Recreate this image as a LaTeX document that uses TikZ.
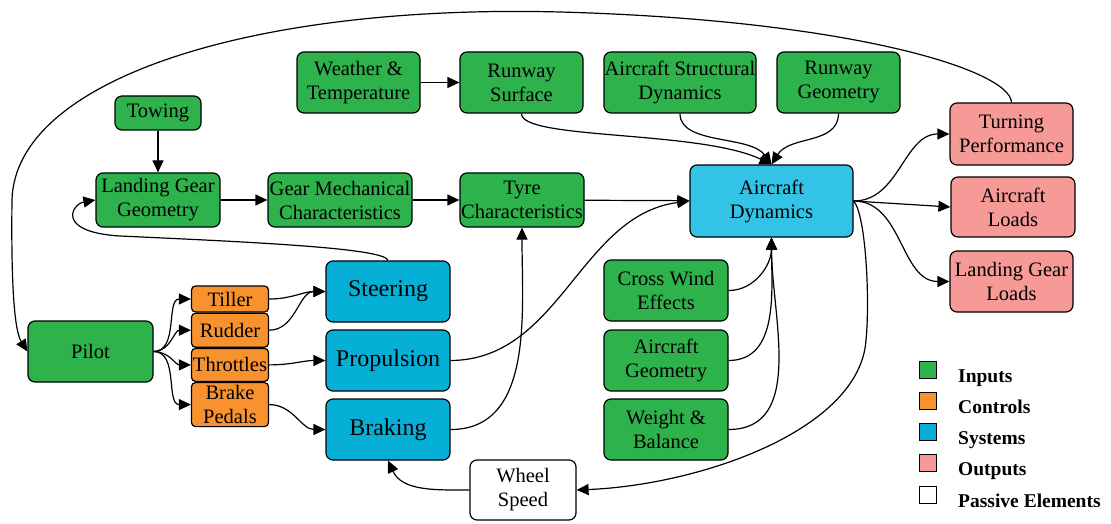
\documentclass[tikz,border=0pt]{standalone}
\usepackage{fontspec}
\setmainfont{Liberation Serif}
\usepackage{xcolor}
\usetikzlibrary{positioning,arrows.meta}

\definecolor{inpgreen}{HTML}{2EB24B}
\definecolor{ctlorange}{HTML}{F7922F}
\definecolor{sysblue}{HTML}{06AFD6}
\definecolor{dynblue}{HTML}{33C3E6}
\definecolor{outpink}{HTML}{F59A96}

\tikzset{
  blok/.style={draw, line width=1.2pt, rounded corners=7pt, align=center, inner sep=0pt,
    font=\fontsize{20.5}{24}\selectfont},
  inp/.style={blok, fill=inpgreen},
  ctl/.style={blok, fill=ctlorange, rounded corners=4pt, minimum width=77pt},
  sys/.style={blok, fill=sysblue, minimum width=124pt, minimum height=61pt,
    font=\fontsize{24}{28}\selectfont},
  outp/.style={blok, fill=outpink},
  pas/.style={blok, fill=white},
  kotak/.style={draw, line width=0.9pt, minimum size=17pt, inner sep=0pt},
  ket/.style={anchor=base west, inner sep=0pt, font=\bfseries\fontsize{19.5}{24}\selectfont},
  hub/.style={line width=1.2pt, -{Triangle[length=12pt,width=11pt]}},
}

\begin{document}
\begin{tikzpicture}[x=1pt, y=-1pt]
  \useasboundingbox (0,0) rectangle (1111,524);

  % inputs
  \node (weather) [inp, minimum width=123pt, minimum height=61pt] at (358.5,82.5) {Weather \&\\Temperature};
  \node (rsurf) [inp, minimum width=123pt, minimum height=61pt] at (521.5,82.5) {Runway\\Surface};
  \node (asd) [inp, minimum width=152pt, minimum height=61pt] at (680,82.5) {Aircraft Structural\\Dynamics};
  \node (rgeo) [inp, minimum width=123pt, minimum height=61pt] at (838.5,82.5) {Runway\\Geometry};
  \node (towing) [inp, minimum width=86pt, minimum height=34pt] at (158,113) {Towing};
  \node (lgg) [inp, minimum width=124pt, minimum height=54pt] at (158,200) {Landing Gear\\Geometry};
  \node (gmc) [inp, minimum width=144pt, minimum height=54pt] at (340,200) {Gear Mechanical\\Characteristics};
  \node (tyre) [inp, minimum width=124pt, minimum height=54pt] at (522,200) {Tyre\\Characteristics};
  \node (pilot) [inp, minimum width=125pt, minimum height=61pt] at (90.5,351.5) {Pilot};
  \node (cwind) [inp, minimum width=124pt, minimum height=61pt] at (666,290.5) {Cross Wind\\Effects};
  \node (ageo) [inp, minimum width=124pt, minimum height=61pt] at (666,360.5) {Aircraft\\Geometry};
  \node (wbal) [inp, minimum width=124pt, minimum height=61pt] at (666,429.5) {Weight \&\\Balance};

  % controls, stacked
  \node (tiller) [ctl, minimum height=26pt] at (230,299) {Tiller};
  \node (rudder) [ctl, minimum height=34pt, below=0pt of tiller] {Rudder};
  \node (throt) [ctl, minimum height=33pt, below=0pt of rudder] {Throttles};
  \node (bpedal) [ctl, minimum height=44pt, below=0pt of throt] {Brake\\Pedals};

  % systems
  \node (steer) [sys] at (388,291.5) {Steering};
  \node (prop) [sys] at (388,360.5) {Propulsion};
  \node (brake) [sys] at (388,429.5) {Braking};
  \node (adyn) [blok, fill=dynblue, minimum width=163pt, minimum height=72pt] at (771.5,201) {Aircraft\\Dynamics};

  % outputs
  \node (turn) [outp, minimum width=123pt, minimum height=62pt] at (1011.5,134) {Turning\\Performance};
  \node (aload) [outp, minimum width=124pt, minimum height=60pt] at (1013,207) {Aircraft\\Loads};
  \node (lgload) [outp, minimum width=123pt, minimum height=61pt] at (1011.5,281.5) {Landing Gear\\Loads};

  % passive
  \node (wspeed) [pas, minimum width=106pt, minimum height=60pt] at (523,490) {Wheel\\Speed};

  % legend
  \node (kin) [kotak, fill=inpgreen] at (928,369.5) {};
  \node (kct) [kotak, fill=ctlorange] at (928,400.5) {};
  \node (ksy) [kotak, fill=sysblue] at (928,432) {};
  \node (kou) [kotak, fill=outpink] at (928,463) {};
  \node (kpa) [kotak, fill=white] at (928,495) {};
  \node (tin) [ket] at (958,382) {Inputs};
  \node (tct) [ket] at (958,413) {Controls};
  \node (tsy) [ket] at (958,444.5) {Systems};
  \node (tou) [ket] at (958,475.5) {Outputs};
  \node (tpa) [ket] at (958,507) {Passive Elements};

  % straight links
  \draw [hub] (weather) -- (rsurf);
  \draw [hub] (towing) -- (lgg);
  \draw [hub] (lgg) -- (gmc);
  \draw [hub] (gmc) -- (tyre);
  \draw [hub] (tyre) -- (adyn);
  \draw [hub] (adyn.east) -- (aload.west);

  % into aircraft dynamics
  \draw [hub] (rsurf.south) .. controls (521,140) and (700,130) .. (adyn.north);
  \draw [hub] (asd.south) .. controls (680,145) and (750,135) .. (adyn.north);
  \draw [hub] (rgeo.south) .. controls (838,145) and (790,135) .. (adyn.north);
  \draw [hub] (cwind.east) to[out=0,in=-90] (adyn.south);
  \draw [hub] (ageo.east) to[out=0,in=-90] (adyn.south);
  \draw [hub] (wbal.east) to[out=0,in=-90] (adyn.south);
  \draw [hub] (prop.east) .. controls (560,360) and (580,215) .. (adyn.west);

  % outputs
  \draw [hub] (adyn.east) to[out=0,in=180] (turn.west);
  \draw [hub] (adyn.east) to[out=0,in=180] (lgload.west);
  \draw [hub] (adyn.east) .. controls (866,215) and (870,300) .. (866,340)
    .. controls (860,430) and (700,485) .. (wspeed.east);

  % feedback loop to pilot
  \draw [hub] (turn.north) .. controls (1010,70) and (850,20) .. (560,12)
    .. controls (250,4) and (15,80) .. (12,200)
    .. controls (11,280) and (14,330) .. (pilot.west);

  % pilot to controls
  \draw [hub] (pilot.east) to[out=0,in=180] (tiller.west);
  \draw [hub] (pilot.east) to[out=0,in=180] (rudder.west);
  \draw [hub] (pilot.east) to[out=0,in=180] (throt.west);
  \draw [hub] (pilot.east) to[out=0,in=180] (bpedal.west);

  % controls to systems
  \draw [hub] (tiller.east) to[out=0,in=180] (steer.west);
  \draw [hub] (rudder.east) to[out=0,in=180] (steer.west);
  \draw [hub] (throt.east) to[out=0,in=180] (prop.west);
  \draw [hub] (bpedal.east) to[out=0,in=180] (brake.west);

  % systems back to gear
  \draw [hub] (steer.north) .. controls (385,248) and (250,242) .. (120,236)
    .. controls (55,232) and (72,204) .. (lgg.west);
  \draw [hub] (brake.east) to[out=0,in=-90] (tyre.south);
  \draw [hub] (wspeed.west) to[out=180,in=-65] (brake.south);
\end{tikzpicture}
\end{document}
